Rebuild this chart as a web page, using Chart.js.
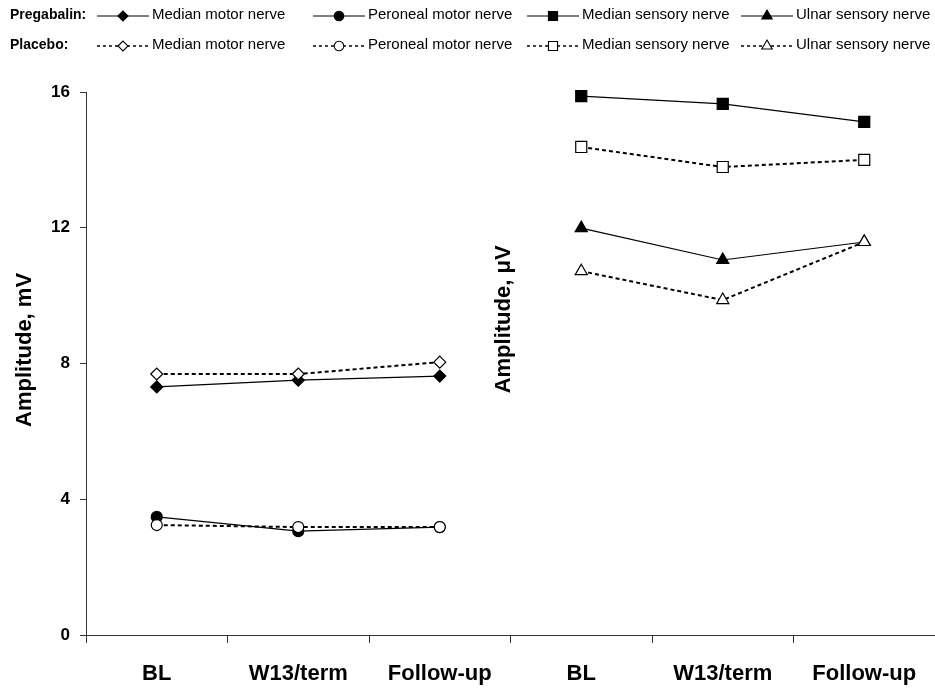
<!DOCTYPE html>
<html>
<head>
<meta charset="UTF-8">
<title>Nerve conduction amplitudes</title>
<script src="https://cdn.jsdelivr.net/npm/chart.js"></script>
<style>
  html, body { margin: 0; padding: 0; background: #fff; overflow: hidden; }
  #wrap { width: 935px; height: 693px; position: relative; }
</style>
</head>
<body>
<div id="wrap"><canvas id="ampChart"></canvas></div>
<script>
// visits: first three = motor panel, last three = sensory panel
const visits = ['BL', 'W13/term', 'Follow-up', 'BL', 'W13/term', 'Follow-up'];
const yTicks = [0, 4, 8, 12, 16];
const nerves = ['Median motor nerve', 'Peroneal motor nerve', 'Median sensory nerve', 'Ulnar sensory nerve'];

// motor amplitudes, mV (left panel)
const pgbMedianMotor = [7.31, 7.51, 7.63];
const plcMedianMotor = [7.69, 7.69, 8.04];
const pgbPeronealMotor = [3.48, 3.06, 3.18];
const plcPeronealMotor = [3.24, 3.18, 3.18];

// sensory amplitudes, µV (right panel)
const pgbMedianSensory = [15.88, 15.65, 15.12];
const plcMedianSensory = [14.38, 13.79, 14.0];
const pgbUlnarSensory = [11.99, 11.05, 11.58];
const plcUlnarSensory = [10.72, 9.87, 11.58];

const FONT = "'Liberation Sans', Arial, sans-serif";
const markerSize = { rectRot: 6, circle: 5.5, rect: 7.8, triangle: 7 };
const legendSize = { rectRot: 5, circle: 4.8, rect: 6.4, triangle: 6 };

function leftPanel(v) { return v.concat([null, null, null]); }
function rightPanel(v) { return [null, null, null].concat(v); }

function series(nerve, data, style, placebo) {
  return {
    label: nerves[nerve],
    nerve: nerve,
    group: placebo ? 1 : 0,
    data: data,
    clip: false,
    borderColor: '#000',
    borderWidth: placebo ? 2 : 1.2,
    borderDash: placebo ? [4, 3] : [],
    pointStyle: style,
    pointRadius: markerSize[style],
    pointHoverRadius: markerSize[style],
    pointBackgroundColor: placebo ? '#fff' : '#000',
    pointBorderColor: '#000',
    pointBorderWidth: 1.2,
    tension: 0
  };
}

// placebo first so the open markers sit on top
const datasets = [
  series(0, leftPanel(plcMedianMotor), 'rectRot', true),
  series(1, leftPanel(plcPeronealMotor), 'circle', true),
  series(2, rightPanel(plcMedianSensory), 'rect', true),
  series(3, rightPanel(plcUlnarSensory), 'triangle', true),
  series(0, leftPanel(pgbMedianMotor), 'rectRot', false),
  series(1, leftPanel(pgbPeronealMotor), 'circle', false),
  series(2, rightPanel(pgbMedianSensory), 'rect', false),
  series(3, rightPanel(pgbUlnarSensory), 'triangle', false)
];

// two-row legend drawn at the top of the canvas
const legendRows = [{ name: 'Pregabalin:', y: 15 }, { name: 'Placebo:', y: 45 }];
const legendCols = [97, 313, 527, 741];
const twoRowLegend = {
  id: 'twoRowLegend',
  afterDraw(chart) {
    const ctx = chart.ctx;
    ctx.save();
    ctx.fillStyle = '#000';
    ctx.textBaseline = 'middle';
    ctx.font = 'bold 14px ' + FONT;
    legendRows.forEach(r => ctx.fillText(r.name, 10, r.y));
    ctx.font = '15px ' + FONT;
    chart.data.datasets.forEach(ds => {
      const row = legendRows[ds.group];
      const x0 = legendCols[ds.nerve];
      const ly = row.y + 1;
      ctx.strokeStyle = '#000';
      ctx.lineWidth = ds.group ? 1.5 : 1;
      ctx.setLineDash(ds.group ? [3, 3] : []);
      ctx.beginPath();
      ctx.moveTo(x0, ly);
      ctx.lineTo(x0 + 52, ly);
      ctx.stroke();
      ctx.setLineDash([]);
      ctx.fillStyle = ds.group ? '#fff' : '#000';
      ctx.lineWidth = 1.1;
      Chart.helpers.drawPoint(ctx, {
        pointStyle: ds.pointStyle, rotation: 0,
        radius: legendSize[ds.pointStyle], borderWidth: 1.1
      }, x0 + 26, ly);
      ctx.fillStyle = '#000';
      ctx.fillText(ds.label, x0 + 55, row.y);
    });
    ctx.restore();
  }
};

// rotated y titles: motor panel on the axis, sensory panel in the gap
function drawVTitle(ctx, text, x, y) {
  ctx.save();
  ctx.translate(x, y);
  ctx.rotate(-Math.PI / 2);
  ctx.font = 'bold 22px ' + FONT;
  ctx.fillStyle = '#000';
  ctx.textAlign = 'center';
  ctx.textBaseline = 'middle';
  ctx.fillText(text, 0, 0);
  ctx.restore();
}
const panelTitles = {
  id: 'panelTitles',
  afterDraw(chart) {
    const xs = chart.scales.x, ys = chart.scales.y;
    drawVTitle(chart.ctx, 'Amplitude, mV', ys.left + 11, ys.getPixelForValue(8.4));
    const gap = (xs.getPixelForValue(2) + xs.getPixelForValue(3)) / 2;
    drawVTitle(chart.ctx, 'Amplitude, \u03bcV', gap - 7, ys.getPixelForValue(9.3));
  }
};

new Chart(document.getElementById('ampChart'), {
  type: 'line',
  data: { labels: visits, datasets: datasets },
  options: {
    responsive: true,
    maintainAspectRatio: false,
    animation: false,
    spanGaps: false,
    layout: { autoPadding: false, padding: { top: 92, left: 14, right: -3, bottom: 6 } },
    plugins: { legend: { display: false }, tooltip: { enabled: false } },
    scales: {
      x: {
        offset: true,
        afterFit: s => { s.height = 52; s.paddingLeft = 0; s.paddingRight = 0; },
        grid: { display: true, offset: true, drawOnChartArea: false, drawTicks: true, tickLength: 8, color: '#333' },
        border: { display: true, color: '#333', width: 1 },
        ticks: { color: '#000', padding: 18, maxRotation: 0, autoSkip: false, font: { family: FONT, size: 22, weight: 'bold' } }
      },
      y: {
        min: 0,
        max: 16,
        afterBuildTicks: s => { s.ticks = yTicks.map(v => ({ value: v })); },
        afterFit: s => { s.width = 72; },
        grid: { display: true, drawOnChartArea: false, drawTicks: true, tickLength: 6, color: '#333' },
        border: { display: true, color: '#333', width: 1 },
        ticks: { color: '#000', padding: 10, font: { family: FONT, size: 17, weight: 'bold' } }
      }
    }
  },
  plugins: [twoRowLegend, panelTitles]
});
</script>
</body>
</html>
